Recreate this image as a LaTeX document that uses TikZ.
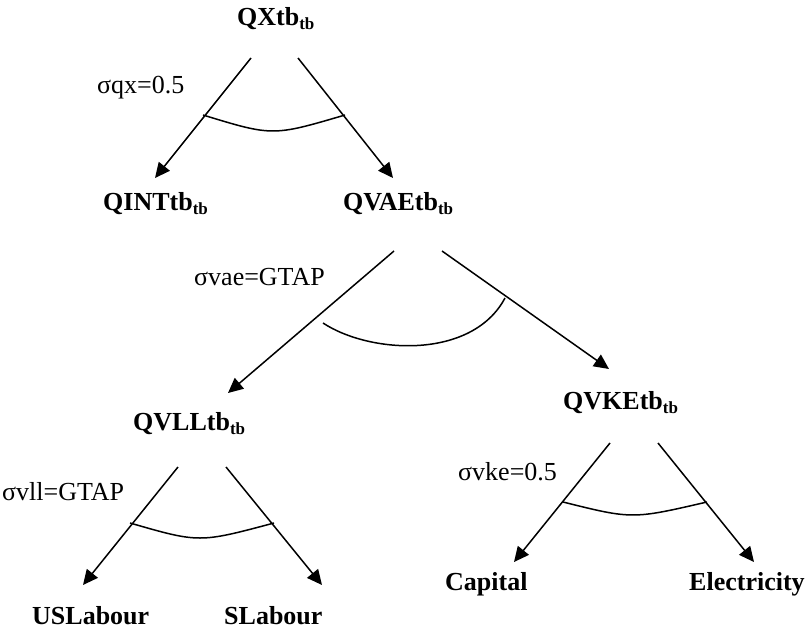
\documentclass[tikz,border=0pt]{standalone}
\usepackage{fontspec}
\setmainfont{Liberation Serif}
\usetikzlibrary{arrows.meta}
% bold "tb" subscript used by every quantity name
\newcommand{\sbtb}{\raisebox{-4pt}{\fontsize{17}{17}\selectfont tb}}
\begin{document}
\begin{tikzpicture}[x=1pt, y=-1pt,
  qty/.style={font=\fontsize{26}{30}\selectfont\bfseries, inner sep=0pt, anchor=base west},
  sig/.style={font=\fontsize{26}{30}\selectfont, inner sep=0pt, anchor=base west},
  arr/.style={-{Triangle[length=15pt, width=14pt]}, line width=1.5pt},
  nestarc/.style={line width=1.5pt}]
\useasboundingbox (0,0) rectangle (806,629);

% quantity nodes
\node[qty] (qx)   at (237,25)  {QXtb\sbtb};
\node[qty] (qint) at (103,210) {QINTtb\sbtb};
\node[qty] (qvae) at (343,210) {QVAEtb\sbtb};
\node[qty] (qvll) at (133,430) {QVLLtb\sbtb};
\node[qty] (qvke) at (563,409) {QVKEtb\sbtb};
\node[qty] (usl)  at (32,624)  {USLabour};
\node[qty] (sl)   at (224,624) {SLabour};
\node[qty] (cap)  at (445,590) {Capital};
\node[qty] (ele)  at (689,590) {Electricity};

% elasticity labels
\node[sig] (sqx)  at (97,93)   {σqx=0.5};
\node[sig] (svae) at (194,285) {σvae=GTAP};
\node[sig] (svll) at (2,500)   {σvll=GTAP};
\node[sig] (svke) at (458,480) {σvke=0.5};

% branch end points
\coordinate (qx-l)   at (251,58);
\coordinate (qx-r)   at (298,58);
\coordinate (qint-t) at (155,178);
\coordinate (qvae-t) at (393,178);
\coordinate (qvae-l) at (394,251);
\coordinate (qvae-r) at (442,251);
\coordinate (qvll-t) at (228,393);
\coordinate (qvke-t) at (609,369);
\coordinate (qvll-l) at (178,467);
\coordinate (qvll-r) at (226,467);
\coordinate (usl-t)  at (83,585);
\coordinate (sl-t)   at (322,585);
\coordinate (qvke-l) at (610,443);
\coordinate (qvke-r) at (658,443);
\coordinate (cap-t)  at (514,562);
\coordinate (ele-t)  at (754,562);

% branches
\draw[arr] (qx-l) -- (qint-t);
\draw[arr] (qx-r) -- (qvae-t);
\draw[arr] (qvae-l) -- (qvll-t);
\draw[arr] (qvae-r) -- (qvke-t);
\draw[arr] (qvll-l) -- (usl-t);
\draw[arr] (qvll-r) -- (sl-t);
\draw[arr] (qvke-l) -- (cap-t);
\draw[arr] (qvke-r) -- (ele-t);

% substitution arcs
\draw[nestarc] (203,115) .. controls (272.7,136.3) .. (345,115);
\draw[nestarc] (323,323) .. controls (370,354) and (472,360) .. (505,298);
\draw[nestarc] (130,523) .. controls (199.3,543) .. (274,523);
\draw[nestarc] (563,502) .. controls (632.3,519.3) .. (707,502);
\end{tikzpicture}
\end{document}
